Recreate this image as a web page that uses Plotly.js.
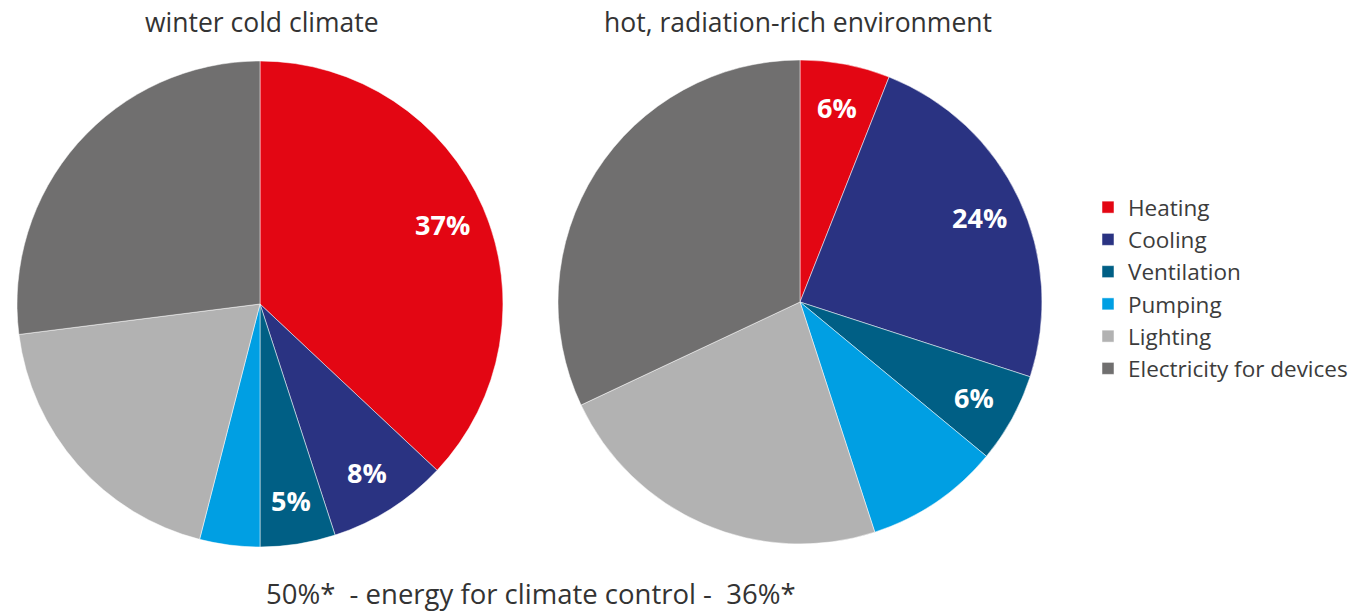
<!DOCTYPE html>
<html>
<head>
<meta charset="utf-8">
<script src="https://cdn.plot.ly/plotly-3.0.1.min.js"></script>
<style>html,body{margin:0;padding:0;background:#fff;}#chart{width:1354px;height:614px;}</style>
</head>
<body>
<div id="chart"></div>
<script>
const categories = ["Heating", "Cooling", "Ventilation", "Pumping", "Lighting", "Electricity for devices"];
const colors = ["#e30613", "#2a3382", "#005f85", "#009fe3", "#b2b2b2", "#706f6f"];
const winterValues = [37, 8, 5, 4, 19, 27];
const winterLabels = ["37%", "8%", "5%", "", "", ""];
const hotValues = [6, 24, 6, 9, 23, 32];
const hotLabels = ["6%", "24%", "6%", "", "", ""];
const titles = ["winter cold climate", "hot, radiation-rich environment"];
const footer = "50%*  - energy for climate control -  36%*";

const W = 1354, H = 614;
const pies = [
  {values: winterValues, labels: winterLabels, cx: 260, cy: 304, r: 243},
  {values: hotValues, labels: hotLabels, cx: 800, cy: 302, r: 242}
];

function pie(p) {
  return {
    type: "pie",
    labels: categories,
    values: p.values,
    textinfo: "none",
    sort: false,
    direction: "clockwise",
    rotation: 0,
    marker: {colors: colors, line: {color: "#ffffff", width: 0.5}},
    domain: {x: [(p.cx - p.r) / W, (p.cx + p.r) / W], y: [1 - (p.cy + p.r) / H, 1 - (p.cy - p.r) / H]},
    hoverinfo: "label+value"
  };
}

const data = pies.map(pie);

// slice labels placed at the mid-angle of each slice, derived from the values
const annotations = [];
pies.forEach(p => {
  const total = p.values.reduce((a, b) => a + b, 0);
  let cum = 0;
  p.values.forEach((v, i) => {
    const mid = (cum + v / 2) / total * 2 * Math.PI;
    cum += v;
    if (!p.labels[i]) return;
    const rr = 0.82 * p.r;
    const px = p.cx + rr * Math.sin(mid);
    const py = p.cy - rr * Math.cos(mid);
    annotations.push({
      text: "<b>" + p.labels[i] + "</b>", x: px / W, y: 1 - py / H, xref: "paper", yref: "paper",
      showarrow: false, xanchor: "center", yanchor: "middle",
      font: {family: "Open Sans", size: 27, color: "#ffffff"}
    });
  });
});

annotations.push(
  {text: titles[0], x: 262 / W, y: 1 - 22 / H, xref: "paper", yref: "paper", showarrow: false, xanchor: "center", yanchor: "middle", font: {size: 26.5, color: "#333333"}},
  {text: titles[1], x: 798 / W, y: 1 - 22 / H, xref: "paper", yref: "paper", showarrow: false, xanchor: "center", yanchor: "middle", font: {size: 26.5, color: "#333333"}},
  {text: footer, x: 531 / W, y: 0, xref: "paper", yref: "paper", showarrow: false, xanchor: "center", yanchor: "bottom", font: {size: 27.5, color: "#333333"}}
);

const layout = {
  width: W, height: H,
  margin: {l: 0, r: 0, t: 0, b: 0},
  paper_bgcolor: "#ffffff",
  font: {family: "Open Sans", color: "#333333"},
  showlegend: true,
  legend: {
    x: 1088 / W, y: 1 - 186 / H, xanchor: "left", yanchor: "top",
    font: {family: "Open Sans", size: 22.5, color: "#3c3c3c"},
    traceorder: "normal", tracegroupgap: 0, itemwidth: 30
  },
  annotations: annotations
};

Plotly.newPlot("chart", data, layout, {displayModeBar: false, staticPlot: true});
</script>
</body>
</html>
